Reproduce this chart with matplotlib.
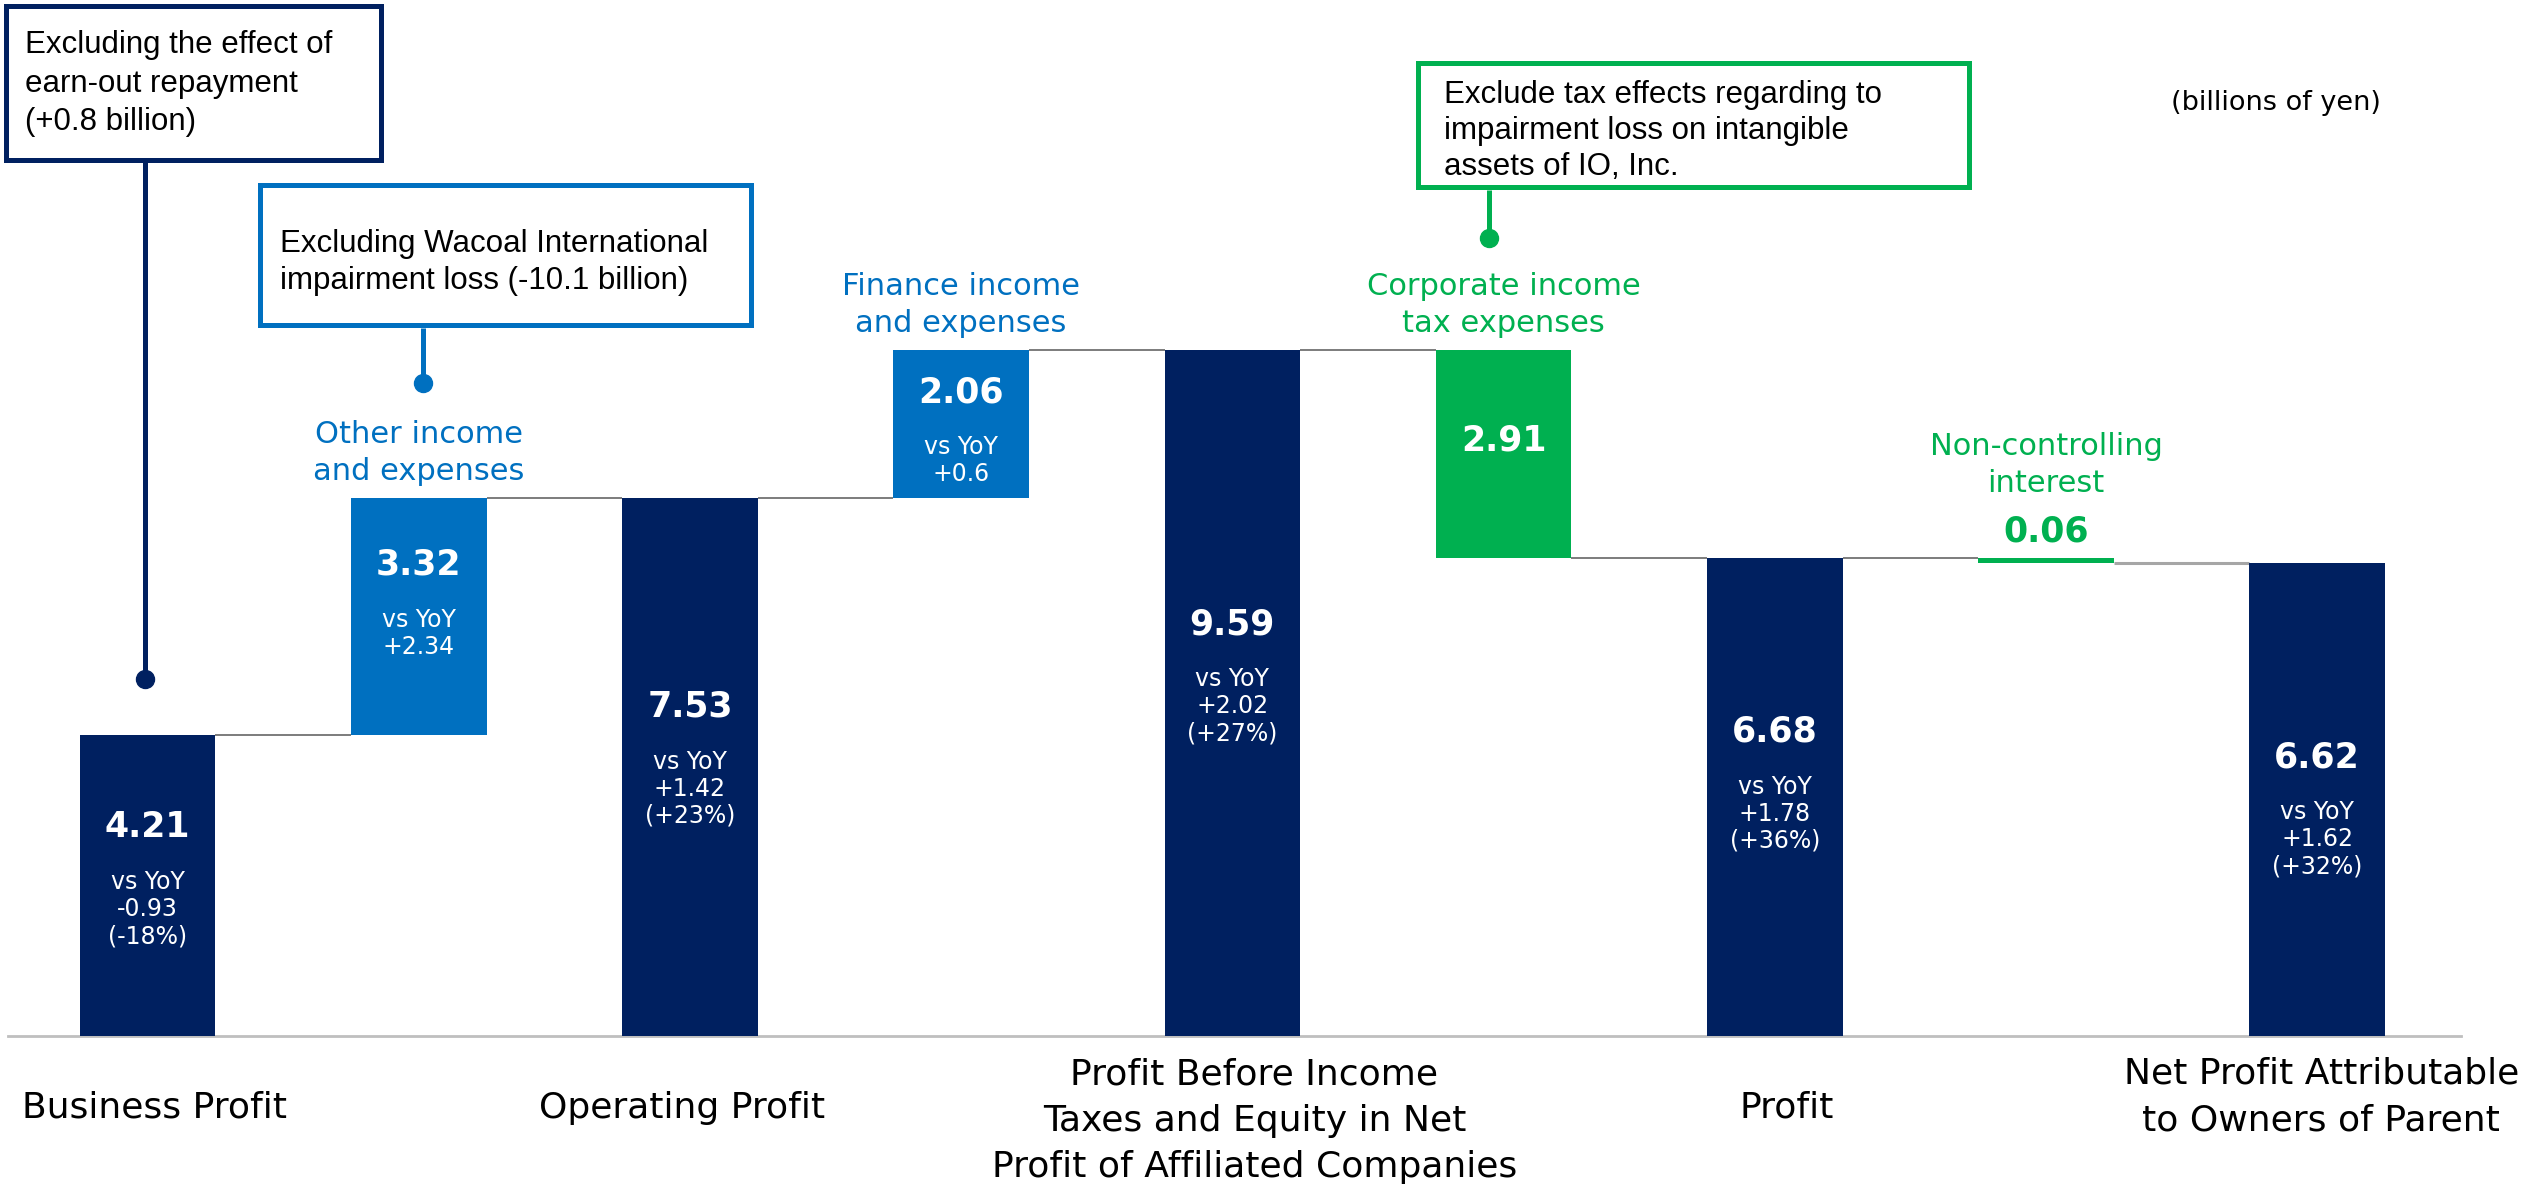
import matplotlib
matplotlib.use("Agg")
import matplotlib.pyplot as plt
from matplotlib.patches import Rectangle

# ---------------- data ----------------
step_names = ["Business Profit",
              "Other income\nand expenses",
              "Operating Profit",
              "Finance income\nand expenses",
              "Profit Before Income\nTaxes and Equity in Net\nProfit of Affiliated Companies",
              "Corporate income\ntax expenses",
              "Profit",
              "Non-controlling\ninterest",
              "Net Profit Attributable\nto Owners of Parent"]
values = [4.21, 3.32, 7.53, 2.06, 9.59, -2.91, 6.68, -0.06, 6.62]
is_total = [True, False, True, False, True, False, True, False, True]
value_text = ["4.21", "3.32", "7.53", "2.06", "9.59", "2.91", "6.68", "0.06", "6.62"]
yoy_text = [["vs YoY", "-0.93", "(-18%)"],
            ["vs YoY", "+2.34"],
            ["vs YoY", "+1.42", "(+23%)"],
            ["vs YoY", "+0.6"],
            ["vs YoY", "+2.02", "(+27%)"],
            [],
            ["vs YoY", "+1.78", "(+36%)"],
            [],
            ["vs YoY", "+1.62", "(+32%)"]]
note_texts = [["Excluding the effect of", "earn-out repayment", "(+0.8 billion)"],
              ["Excluding Wacoal International", "impairment loss (-10.1 billion)"],
              ["Exclude tax effects regarding to", "impairment loss on intangible", "assets of IO, Inc."]]
unit_text = "(billions of yen)"

# ---------------- layout / style ----------------
NAVY, BLUE, GREEN = "#002060", "#0070C0", "#00B050"
W, H, DPI = 2522, 1189, 100
PX = 72.0 / DPI  # points per pixel
# baseline of value-label in each bar (data units), None = outside
label_pos = [2.783, 6.448, 4.462, 8.867, 5.622, 8.196, 4.112, None, 3.762]
cat_dx_px = [7, 0, -8, 0, 22, 0, 12, 0, 4]
cat_center_px = {1: 72, 2: 61, 3: 85}

fig = plt.figure(figsize=(W / DPI, H / DPI), dpi=DPI)
ax = fig.add_axes([0, 0, 1, 1])
ax.set_xlim(-0.544, 8.755)
ax.set_ylim(-2.14, 14.49)
ax.axis("off")

ov = fig.add_axes([0, 0, 1, 1], zorder=5)
ov.set_xlim(0, W)
ov.set_ylim(H, 0)
ov.axis("off")
ov.patch.set_alpha(0)

FONT = "DejaVu Sans"
ARIAL = "Liberation Sans"

def txt(x, y, s, dx_px=0, dy_px=0, **kw):
    ax.annotate(s, xy=(x, y), xycoords="data", xytext=(dx_px * PX, dy_px * PX),
                textcoords="offset points", ha=kw.pop("ha", "center"),
                va=kw.pop("va", "baseline"), family=kw.pop("family", FONT), **kw)

# baseline
ax.axhline(0, xmin=8 / W, xmax=2461 / W, color="#BFBFBF", lw=2.0, zorder=1)

level = 0.0
bar_w = 0.5
for i, v in enumerate(values):
    if is_total[i]:
        bottom, height = 0.0, v
        color = NAVY
        level = v
    else:
        bottom = level if v >= 0 else level + v
        height = abs(v)
        color = BLUE if v >= 0 else GREEN
        level = level + v
    ax.bar(i, height, bottom=bottom, width=bar_w, color=color, zorder=3,
           edgecolor="none")
    top = bottom + height

    # connector to next bar
    if i < len(values) - 1:
        last = i == len(values) - 2
        ax.plot([i + bar_w / 2, i + 1 - bar_w / 2], [level, level],
                color="#A6A6A6" if last else "#595959",
                lw=2.2 if last else 1.1, zorder=2, solid_capstyle="butt")

    # value labels
    if label_pos[i] is not None:
        txt(i, label_pos[i], value_text[i], color="white", fontsize=25, fontweight="bold")
        for k, line in enumerate(yoy_text[i]):
            txt(i, label_pos[i], line, dy_px=-(52 + 27 * k), color="white", fontsize=17)

    lines = step_names[i].split("\n")
    if is_total[i]:
        txt(i, 0, step_names[i], dx_px=cat_dx_px[i], dy_px=-cat_center_px[len(lines)],
            va="center", color="black", fontsize=26, linespacing=1.45)
    else:
        if label_pos[i] is None:
            txt(i, top, value_text[i], dy_px=17, color=color, fontsize=25, fontweight="bold")
            base = 17 + 49
        else:
            base = 18
        for k, line in enumerate(reversed(lines)):
            txt(i, top, line, dy_px=base + 37 * k, color=color, fontsize=22)

# ---------------- note boxes (decoration) ----------------
boxes = [((6, 6, 375, 154), NAVY, 25, [53, 92, 130], (145, 162, 679)),
         ((260, 185, 491, 140), BLUE, 280, [252, 289], (423, 328, 383)),
         ((1418, 63, 551, 124), GREEN, 1444, [103, 139, 175], (1489, 190, 238))]

for k, (rect, col, tx, bases, lead) in enumerate(boxes):
    bx, by, bw, bh = rect
    ov.add_patch(Rectangle((bx, by), bw, bh, fill=True, facecolor="white",
                           edgecolor=col, lw=5 * PX, zorder=5))
    for line, b in zip(note_texts[k], bases):
        ov.text(tx, b, line, family=ARIAL, fontsize=22.5, color="black",
                ha="left", va="baseline", zorder=6)
    lx, ly0, ly1 = lead
    ov.plot([lx, lx], [ly0, ly1], color=col, lw=5 * PX, zorder=4, solid_capstyle="butt")
    ov.plot([lx], [ly1], marker="o", ms=18 * PX, color=col, zorder=4)

ov.text(2276, 110, unit_text, family=FONT, fontsize=19.5, color="black",
        ha="center", va="baseline")

fig.savefig("out.png", dpi=DPI, facecolor="white")
